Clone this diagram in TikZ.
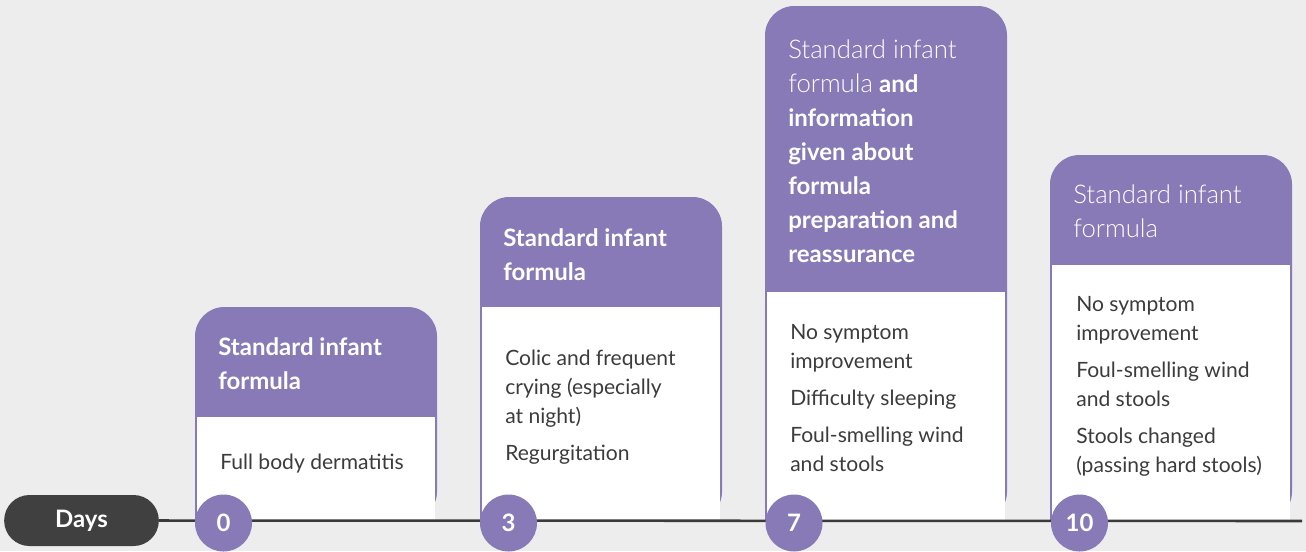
\documentclass[tikz,border=0pt]{standalone}
\usepackage{fontspec}
\setmainfont{Lato}
\newfontfamily\lightfont{Lato Light}
\definecolor{bg}{HTML}{EDEDED}
\definecolor{purp}{HTML}{877AB7}
\definecolor{pill}{HTML}{404040}
\definecolor{bodytxt}{HTML}{3C3C3C}
\definecolor{tline}{HTML}{3A3A3A}
\newcommand{\hb}{\fontsize{18}{25.5}\selectfont\bfseries}
\newcommand{\hl}{\fontsize{19.3}{25.5}\selectfont\lightfont}
\tikzset{
  hdr/.style={anchor=north west, inner sep=0pt, text=white, align=left,
    font=\fontsize{18}{25.5}\selectfont},
  bdy/.style={anchor=north west, inner sep=0pt, text=bodytxt, align=left,
    font=\fontsize{15.8}{21.75}\selectfont},
  daydot/.style={circle, fill=purp, minimum size=42.75pt, inner sep=0pt, text=white,
    font=\fontsize{18}{20}\selectfont\bfseries},
}
\newcommand{\cardshape}[5]{% left, right, top, headbottom, name
  \fill[purp, rounded corners=22pt] (#1,521) -- (#1,#3) -- (#2,#3) -- (#2,521) [sharp corners] -- cycle;
  \fill[white] (#1+2,#4) rectangle (#2-2,521);
  \coordinate (#5) at (#1,#3);
}
\begin{document}
\begin{tikzpicture}[x=0.75pt,y=-0.75pt]
\fill[bg] (0,0) rectangle (1306,551);
\useasboundingbox (0,0) rectangle (1306,551);

% cards
\cardshape{195}{437}{307}{417}{c0}
\cardshape{480}{722}{197}{307}{c3}
\cardshape{765}{1007}{6}{292}{c7}
\cardshape{1050}{1292}{155}{265}{c10}

% header texts
\node[hdr] (h0) at (218,337) {\hb Standard infant\\\hb formula};
\node[hdr] (h3) at (503,228) {\hb Standard infant\\\hb formula};
\node[hdr] (h7) at (788,40) {\hl Standard infant\\{\hl formula} \hb and\\\hb information\\\hb given about\\\hb formula\\\hb preparation and\\\hb reassurance};
\node[hdr] (h10) at (1073,185) {\hl Standard infant\\\hl formula};

% body texts
\node[bdy] (b0) at (220,454) {Full body dermatitis};
\node[bdy] (b3) at (505,350) {Colic and frequent\\crying (especially\\at night)\\[6pt]Regurgitation};
\node[bdy] (b7) at (790,324) {No symptom\\improvement\\[6pt]Difficulty sleeping\\[6pt]Foul-smelling wind\\and stools};
\node[bdy] (b10) at (1076,296) {No symptom\\improvement\\[6pt]Foul-smelling wind\\and stools\\[6pt]Stools changed\\(passing hard stools)};

% timeline
\node[fill=pill, rounded corners=19pt, minimum width=116pt, minimum height=38.25pt, inner sep=0pt,
  text=white, font=\fontsize{18}{20}\selectfont\bfseries] (days) at (81.5,520.5) {Days};
\coordinate (tend) at (1302,521);
\draw[tline, line width=1.9pt] (days.east) -- (tend);

\node[daydot] (d0) at (223.5,523) {0};
\node[daydot] (d3) at (508.5,523) {3};
\node[daydot] (d7) at (794,523) {7};
\node[daydot] (d10) at (1079.5,523) {10};
\end{tikzpicture}
\end{document}
